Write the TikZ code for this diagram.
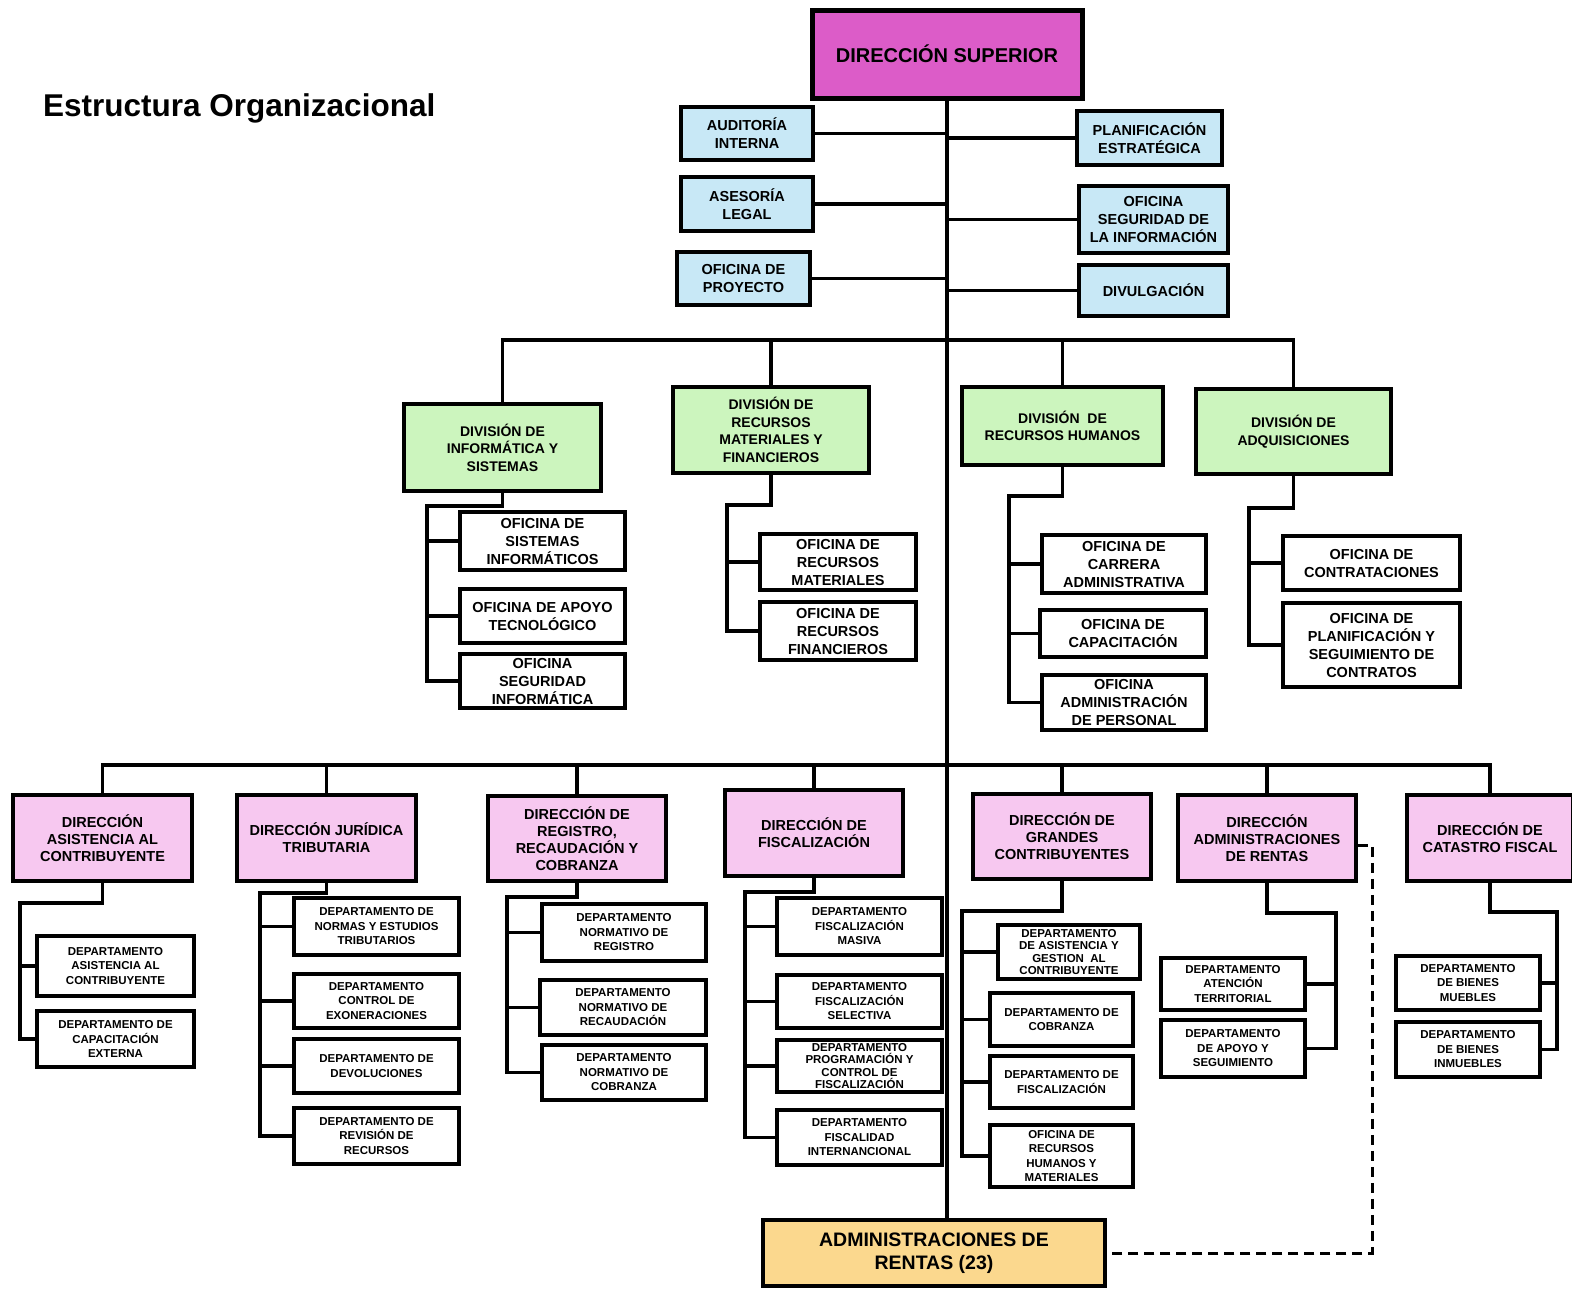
\documentclass[tikz,border=0pt]{standalone}
\usepackage{fontspec}
\setmainfont{Liberation Sans}
\usepackage{tikz}
\usetikzlibrary{calc}
\usetikzlibrary{positioning}
\definecolor{supcol}{RGB}{220,92,200}
\definecolor{asecol}{RGB}{200,232,246}
\definecolor{divcol}{RGB}{204,245,190}
\definecolor{dircol}{RGB}{247,200,240}
\definecolor{admcol}{RGB}{251,216,142}
\tikzstyle{caja} = [rectangle, draw=black, line width=3.5pt, align=center, inner sep=0pt]
\tikzstyle{asesor} = [caja, fill=asecol, font=\fontsize{14.5}{18}\selectfont\bfseries]
\tikzstyle{division} = [caja, fill=divcol, font=\fontsize{14}{17.5}\selectfont\bfseries]
\tikzstyle{oficina} = [caja, fill=white, font=\fontsize{14.5}{18}\selectfont\bfseries]
\tikzstyle{direccion} = [caja, fill=dircol, font=\fontsize{14.5}{17}\selectfont\bfseries]
\tikzstyle{depto} = [caja, fill=white, font=\fontsize{11.5}{14.5}\selectfont\bfseries]
\tikzstyle{linea} = [-, line width=3.5pt]

\begin{document}
\begin{tikzpicture}[x=1pt, y=-1pt]
\useasboundingbox (0,0) rectangle (1572,1291);
\node [anchor=west, inner sep=0pt, font=\fontsize{31.5}{36}\selectfont\bfseries] (titulo) at (43, 108) {Estructura Organizacional};

\node [caja, fill=supcol, line width=5pt, font=\fontsize{20}{24}\selectfont\bfseries, minimum width=270pt, minimum height=88pt] (ds) at (947, 54) {DIRECCIÓN SUPERIOR};
\node [asesor, minimum width=132pt, minimum height=53pt] (ai) at (747, 133.5) {AUDITORÍA\\INTERNA};
\node [asesor, minimum width=132pt, minimum height=54pt] (al) at (747, 204) {ASESORÍA\\LEGAL};
\node [asesor, minimum width=133pt, minimum height=53pt] (op) at (743.5, 278.5) {OFICINA DE\\PROYECTO};
\node [asesor, minimum width=145pt, minimum height=54pt] (pe) at (1149.5, 138) {PLANIFICACIÓN\\ESTRATÉGICA};
\node [asesor, minimum width=149pt, minimum height=67pt] (osi) at (1153.5, 219.5) {OFICINA\\SEGURIDAD DE\\LA INFORMACIÓN};
\node [asesor, minimum width=149pt, minimum height=51pt] (dv) at (1153.5, 290.5) {DIVULGACIÓN};

\node [division, minimum width=197pt, minimum height=87pt] (dinf) at (502.5, 447.5) {DIVISIÓN DE\\INFORMÁTICA Y\\SISTEMAS};
\node [division, minimum width=196pt, minimum height=86pt] (drmf) at (771, 430) {DIVISIÓN DE\\RECURSOS\\MATERIALES Y\\FINANCIEROS};
\node [division, minimum width=201pt, minimum height=78pt] (drh) at (1062.5, 426) {DIVISIÓN~ DE\\RECURSOS HUMANOS};
\node [division, minimum width=195pt, minimum height=85pt] (dadq) at (1293.5, 431.5) {DIVISIÓN DE\\ADQUISICIONES};

\node [oficina, minimum width=165pt, minimum height=58pt] (o11) at (542.5, 541) {OFICINA DE\\SISTEMAS\\INFORMÁTICOS};
\node [oficina, minimum width=165pt, minimum height=54pt] (o12) at (542.5, 616) {OFICINA DE APOYO\\TECNOLÓGICO};
\node [oficina, minimum width=165pt, minimum height=54pt] (o13) at (542.5, 681) {OFICINA\\SEGURIDAD\\INFORMÁTICA};
\node [oficina, minimum width=156pt, minimum height=56pt] (o21) at (838, 562) {OFICINA DE\\RECURSOS\\MATERIALES};
\node [oficina, minimum width=156pt, minimum height=58pt] (o22) at (838, 631) {OFICINA DE\\RECURSOS\\FINANCIEROS};
\node [oficina, minimum width=164pt, minimum height=58pt] (o31) at (1124, 564) {OFICINA DE\\CARRERA\\ADMINISTRATIVA};
\node [oficina, minimum width=166pt, minimum height=47pt] (o32) at (1123, 633.5) {OFICINA DE\\CAPACITACIÓN};
\node [oficina, minimum width=164pt, minimum height=55pt] (o33) at (1124, 702.5) {OFICINA\\ADMINISTRACIÓN\\DE PERSONAL};
\node [oficina, minimum width=177pt, minimum height=54pt] (o41) at (1371.5, 563) {OFICINA DE\\CONTRATACIONES};
\node [oficina, minimum width=177pt, minimum height=84pt] (o42) at (1371.5, 645) {OFICINA DE\\PLANIFICACIÓN Y\\SEGUIMIENTO DE\\CONTRATOS};

\node [direccion, minimum width=179pt, minimum height=86pt] (d1) at (102.5, 838) {DIRECCIÓN\\ASISTENCIA AL\\CONTRIBUYENTE};
\node [direccion, minimum width=179pt, minimum height=86pt] (d2) at (326.5, 838) {DIRECCIÓN JURÍDICA\\TRIBUTARIA};
\node [direccion, minimum width=178pt, minimum height=85pt] (d3) at (577, 838.5) {DIRECCIÓN DE\\REGISTRO,\\RECAUDACIÓN Y\\COBRANZA};
\node [direccion, minimum width=178pt, minimum height=86pt] (d4) at (814, 833) {DIRECCIÓN DE\\FISCALIZACIÓN};
\node [direccion, minimum width=178pt, minimum height=85pt] (d5) at (1062, 836.5) {DIRECCIÓN DE\\GRANDES\\CONTRIBUYENTES};
\node [direccion, minimum width=178pt, minimum height=86pt] (d6) at (1267, 838) {DIRECCIÓN\\ADMINISTRACIONES\\DE RENTAS};
\node [direccion, minimum width=166pt, minimum height=86pt] (d7) at (1490, 838) {DIRECCIÓN DE\\CATASTRO FISCAL};

\node [depto, minimum width=157pt, minimum height=60pt] (e11) at (115.5, 966) {DEPARTAMENTO\\ASISTENCIA AL\\CONTRIBUYENTE};
\node [depto, minimum width=157pt, minimum height=56pt] (e12) at (115.5, 1039) {DEPARTAMENTO DE\\CAPACITACIÓN\\EXTERNA};
\node [depto, minimum width=165pt, minimum height=57pt] (e21) at (376.5, 926.5) {DEPARTAMENTO DE\\NORMAS Y ESTUDIOS\\TRIBUTARIOS};
\node [depto, minimum width=165pt, minimum height=54pt] (e22) at (376.5, 1001) {DEPARTAMENTO\\CONTROL DE\\EXONERACIONES};
\node [depto, minimum width=165pt, minimum height=54pt] (e23) at (376.5, 1066) {DEPARTAMENTO DE\\DEVOLUCIONES};
\node [depto, minimum width=165pt, minimum height=56pt] (e24) at (376.5, 1136) {DEPARTAMENTO DE\\REVISIÓN DE\\RECURSOS};
\node [depto, minimum width=164pt, minimum height=57pt] (e31) at (624, 932.5) {DEPARTAMENTO\\NORMATIVO DE\\REGISTRO};
\node [depto, minimum width=166pt, minimum height=55pt] (e32) at (623, 1007.5) {DEPARTAMENTO\\NORMATIVO DE\\RECAUDACIÓN};
\node [depto, minimum width=164pt, minimum height=55pt] (e33) at (624, 1072.5) {DEPARTAMENTO\\NORMATIVO DE\\COBRANZA};
\node [depto, minimum width=165pt, minimum height=57pt] (e41) at (859.5, 926.5) {DEPARTAMENTO\\FISCALIZACIÓN\\MASIVA};
\node [depto, minimum width=165pt, minimum height=53pt] (e42) at (859.5, 1001.5) {DEPARTAMENTO\\FISCALIZACIÓN\\SELECTIVA};
\node [depto, minimum width=165pt, minimum height=52pt, font=\fontsize{11.5}{12.5}\selectfont\bfseries] (e43) at (859.5, 1066) {DEPARTAMENTO\\PROGRAMACIÓN Y\\CONTROL DE\\FISCALIZACIÓN};
\node [depto, minimum width=165pt, minimum height=55pt] (e44) at (859.5, 1137.5) {DEPARTAMENTO\\FISCALIDAD\\INTERNANCIONAL};
\node [depto, minimum width=142pt, minimum height=54pt, font=\fontsize{11.5}{12.5}\selectfont\bfseries] (e51) at (1069, 952) {DEPARTAMENTO\\DE ASISTENCIA Y\\GESTION~ AL\\CONTRIBUYENTE};
\node [depto, minimum width=143pt, minimum height=53pt] (e52) at (1061.5, 1019.5) {DEPARTAMENTO DE\\COBRANZA};
\node [depto, minimum width=143pt, minimum height=52pt] (e53) at (1061.5, 1082) {DEPARTAMENTO DE\\FISCALIZACIÓN};
\node [depto, minimum width=143pt, minimum height=62pt] (e54) at (1061.5, 1156) {OFICINA DE\\RECURSOS\\HUMANOS Y\\MATERIALES};
\node [depto, minimum width=144pt, minimum height=52pt] (e61) at (1233, 984) {DEPARTAMENTO\\ATENCIÓN\\TERRITORIAL};
\node [depto, minimum width=144pt, minimum height=57pt] (e62) at (1233, 1048.5) {DEPARTAMENTO\\DE APOYO Y\\SEGUIMIENTO};
\node [depto, minimum width=144pt, minimum height=54pt] (e71) at (1468, 983) {DEPARTAMENTO\\DE BIENES\\MUEBLES};
\node [depto, minimum width=144pt, minimum height=55pt] (e72) at (1468, 1049.5) {DEPARTAMENTO\\DE BIENES\\INMUEBLES};

\node [caja, fill=admcol, font=\fontsize{19.5}{23}\selectfont\bfseries, minimum width=342pt, minimum height=66pt] (adr) at (934, 1253) {ADMINISTRACIONES DE\\RENTAS (23)};

\coordinate (bar1) at (946, 340);
\coordinate (bar2) at (946, 765);
\coordinate (s1) at (427, 506);
\coordinate (s2) at (727, 505);
\coordinate (s3) at (1009, 496);
\coordinate (s4) at (1249, 508);
\coordinate (t1) at (20, 903);
\coordinate (t2) at (260, 893);
\coordinate (t3) at (507, 897);
\coordinate (t4) at (745, 892);
\coordinate (t5) at (962, 911);
\coordinate (t6) at (1336, 913);
\coordinate (t7) at (1557, 912);
\coordinate (dsh) at (1372, 845);

\draw [linea, line width=4.5pt] (ds.south) -- (ds.south |- adr.north);
\draw [linea] (ai.east) -- (ai.east -| ds.south);
\draw [linea] (al.east) -- (al.east -| ds.south);
\draw [linea] (op.east) -- (op.east -| ds.south);
\draw [linea] (pe.west) -- (pe.west -| ds.south);
\draw [linea] (osi.west) -- (osi.west -| ds.south);
\draw [linea] (dv.west) -- (dv.west -| ds.south);

\draw [linea] (dinf.north) -- (dinf.north |- bar1) -- (dadq.north |- bar1) -- (dadq.north);
\draw [linea] (drmf.north) -- (drmf.north |- bar1);
\draw [linea] (drh.north) -- (drh.north |- bar1);

\draw [linea] (dinf.south) |- (s1) -- (s1 |- o13.west) -- (o13.west);
\draw [linea] (s1 |- o11.west) -- (o11.west);
\draw [linea] (s1 |- o12.west) -- (o12.west);
\draw [linea] (drmf.south) |- (s2) -- (s2 |- o22.west) -- (o22.west);
\draw [linea] (s2 |- o21.west) -- (o21.west);
\draw [linea] (drh.south) |- (s3) -- (s3 |- o33.west) -- (o33.west);
\draw [linea] (s3 |- o31.west) -- (o31.west);
\draw [linea] (s3 |- o32.west) -- (o32.west);
\draw [linea] (dadq.south) |- (s4) -- (s4 |- o42.west) -- (o42.west);
\draw [linea] (s4 |- o41.west) -- (o41.west);

\draw [linea] (d1.north) -- (d1.north |- bar2) -- (d7.north |- bar2) -- (d7.north);
\draw [linea] (d2.north) -- (d2.north |- bar2);
\draw [linea] (d3.north) -- (d3.north |- bar2);
\draw [linea] (d4.north) -- (d4.north |- bar2);
\draw [linea] (d5.north) -- (d5.north |- bar2);
\draw [linea] (d6.north) -- (d6.north |- bar2);

\draw [linea] (d1.south) |- (t1) -- (t1 |- e12.west) -- (e12.west);
\draw [linea] (t1 |- e11.west) -- (e11.west);
\draw [linea] (d2.south) |- (t2) -- (t2 |- e24.west) -- (e24.west);
\draw [linea] (t2 |- e21.west) -- (e21.west);
\draw [linea] (t2 |- e22.west) -- (e22.west);
\draw [linea] (t2 |- e23.west) -- (e23.west);
\draw [linea] (d3.south) |- (t3) -- (t3 |- e33.west) -- (e33.west);
\draw [linea] (t3 |- e31.west) -- (e31.west);
\draw [linea] (t3 |- e32.west) -- (e32.west);
\draw [linea] (d4.south) |- (t4) -- (t4 |- e44.west) -- (e44.west);
\draw [linea] (t4 |- e41.west) -- (e41.west);
\draw [linea] (t4 |- e42.west) -- (e42.west);
\draw [linea] (t4 |- e43.west) -- (e43.west);
\draw [linea] (d5.south) |- (t5) -- (t5 |- e54.west) -- (e54.west);
\draw [linea] (t5 |- e51.west) -- (e51.west);
\draw [linea] (t5 |- e52.west) -- (e52.west);
\draw [linea] (t5 |- e53.west) -- (e53.west);
\draw [linea] (d6.south) |- (t6) -- (t6 |- e62.east) -- (e62.east);
\draw [linea] (t6 |- e61.east) -- (e61.east);
\draw [linea] (d7.south) |- (t7) -- (t7 |- e72.east) -- (e72.east);
\draw [linea] (t7 |- e71.east) -- (e71.east);

\draw [linea, line width=3pt, dash pattern=on 10pt off 6pt] (d6.east |- dsh) -- (dsh) -- (dsh |- adr.east) -- (adr.east);
\end{tikzpicture}
\end{document}
